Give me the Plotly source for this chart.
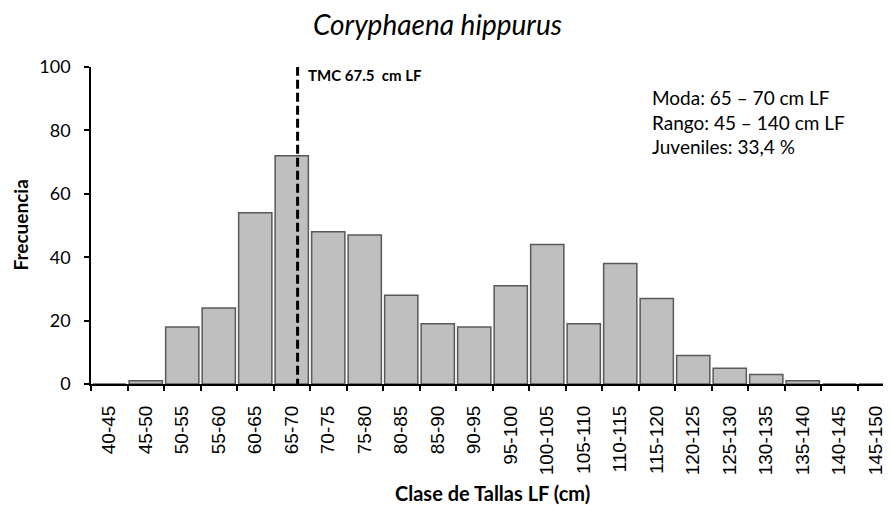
import plotly.graph_objects as go

classes = ["40-45", "45-50", "50-55", "55-60", "60-65", "65-70", "70-75", "75-80",
           "80-85", "85-90", "90-95", "95-100", "100-105", "105-110", "110-115",
           "115-120", "120-125", "125-130", "130-135", "135-140", "140-145", "145-150"]
frecuencia = [0, 1, 18, 24, 54, 72, 48, 47, 28, 19, 18, 31, 44, 19, 38, 27, 9, 5, 3, 1, 0, 0]
tmc_pos = 5.16  # category position of TMC 67.5 cm line
y_ticks = [0, 20, 40, 60, 80, 100]

FONT = "Lato, sans-serif"

fig = go.Figure()
fig.add_trace(go.Bar(
    x=classes, y=frecuencia,
    marker=dict(color="#bfbfbf", line=dict(color="#595959", width=1.5)),
    hoverinfo="x+y",
))

fig.add_shape(type="line", xref="x", yref="y", x0=tmc_pos, x1=tmc_pos, y0=-1.2, y1=100,
              line=dict(color="black", width=3, dash="9px,4px"))

fig.add_annotation(x=tmc_pos, y=97.5, xref="x", yref="y", xanchor="left", yanchor="middle",
                   xshift=8, showarrow=False,
                   text="<b>TMC 67.5  cm LF</b>",
                   font=dict(family=FONT, size=15, color="black"))

fig.add_annotation(x=0.696, y=0.946, xref="paper", yref="paper", xanchor="left", yanchor="top",
                   showarrow=False, align="left",
                   text="Moda: 65 – 70 cm LF<br>Rango: 45 – 140 cm LF<br>Juveniles: 33,4 %",
                   font=dict(family=FONT, size=19, color="black"))

# axis titles
fig.add_annotation(x=-0.0884, y=0.5, xref="paper", yref="paper", xanchor="center", yanchor="middle",
                   textangle=-90, showarrow=False, text="<b>Frecuencia</b>",
                   font=dict(family=FONT, size=19, color="black"))
fig.add_annotation(x=0.5, y=-0.345, xref="paper", yref="paper", xanchor="center", yanchor="middle",
                   showarrow=False, text="<b>Clase de Tallas LF (cm)</b>",
                   font=dict(family=FONT, size=20, color="black"))

fig.update_layout(
    width=891, height=505,
    margin=dict(l=83, r=5, t=59, b=128.5, autoexpand=False),
    paper_bgcolor="white", plot_bgcolor="white",
    bargap=0.09,
    showlegend=False,
    title=dict(text="<i>Coryphaena hippurus</i>", x=0.482, xanchor="center", y=0.966, yanchor="middle",
               font=dict(family=FONT, size=28, color="black")),
    font=dict(family=FONT, color="black"),
)

fig.update_xaxes(
    type="category", range=[-0.5, 21.5], automargin=False,
    tickson="boundaries", ticks="outside", ticklen=5, tickcolor="black", tickwidth=1.5,
    showline=True, linecolor="black", linewidth=2,
    tickangle=-90, ticklabelstandoff=12,
    tickfont=dict(family="Liberation Sans, Arial, sans-serif", size=19, color="black"),
    showgrid=False, zeroline=False,
)

fig.update_yaxes(
    range=[0, 100], tickvals=y_ticks, automargin=False,
    ticks="outside", ticklen=5, tickcolor="black", tickwidth=1.5,
    showline=True, linecolor="black", linewidth=1.5, ticklabelstandoff=10,
    tickfont=dict(family=FONT, size=18, color="black"),
    showgrid=False, zeroline=False,
)

fig.write_html("out.html")
